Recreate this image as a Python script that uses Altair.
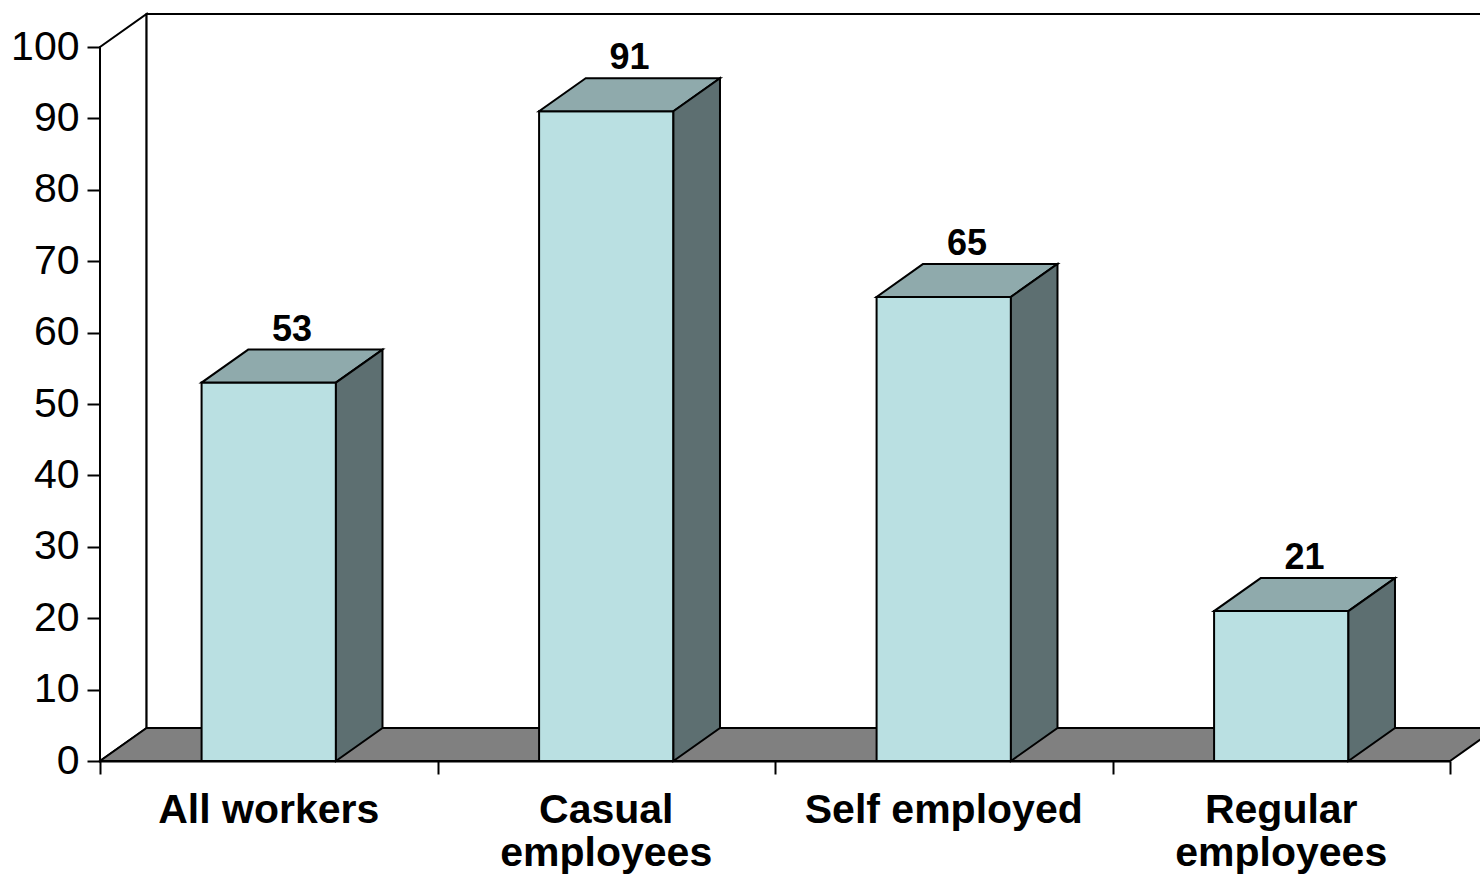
import altair as alt
import pandas as pd

categories = ["All workers", "Casual\nemployees", "Self employed", "Regular\nemployees"]
values = [53, 91, 65, 21]
y_ticks = [0, 10, 20, 30, 40, 50, 60, 70, 80, 90, 100]

# 3D geometry in data units
DX = 0.138   # depth offset along x (category units)
DY = 4.62    # depth offset along y (value units)
HW = 0.199   # half width of bar front face
YMAX = 100
NCAT = len(categories)

FRONT = "#BAE0E2"
TOP = "#8FAAAC"
SIDE = "#5D6F71"
FLOOR = "#808080"
FONT = "Liberation Sans"

rows_front, rows_top, rows_side, rows_lab = [], [], [], []
for i, (c, v) in enumerate(zip(categories, values)):
    cx = i + 0.5
    rows_front.append({"cat": c, "x": cx - HW, "x2": cx + HW, "y": 0, "y2": v})
    rows_top.append({"cat": c, "yy": v, "xa": cx - HW, "xb": cx + HW})
    rows_top.append({"cat": c, "yy": v + DY, "xa": cx - HW + DX, "xb": cx + HW + DX})
    rows_side.append({"cat": c, "xx": cx + HW, "ya": 0, "yb": v})
    rows_side.append({"cat": c, "xx": cx + HW + DX, "ya": DY, "yb": v + DY})
    rows_lab.append({"cat": c, "x": cx + DX / 2, "y": v + DY, "label": str(v), "cx": cx, "lines": c.split("\n")})

df_front = pd.DataFrame(rows_front)
df_top = pd.DataFrame(rows_top)
df_side = pd.DataFrame(rows_side)
df_lab = pd.DataFrame(rows_lab)

xs = alt.Scale(domain=[0, NCAT], nice=False, zero=False)
ys = alt.Scale(domain=[0, YMAX], nice=False)

x_axis = alt.Axis(values=list(range(NCAT + 1)), labels=False, title=None, grid=False,
                  tickSize=13, tickColor="black", tickWidth=2, domainColor="black", domainWidth=2)
y_axis = alt.Axis(values=y_ticks, title=None, grid=False, tickSize=13, tickColor="black", tickWidth=2,
                  domainColor="black", domainWidth=2, labelFontSize=41, labelFont=FONT,
                  labelColor="black", labelPadding=8)

# walls
left_wall = alt.Chart(pd.DataFrame({"xx": [0, DX], "ya": [0, DY], "yb": [YMAX, YMAX + DY]})).mark_area(
    fill="white", stroke="black", strokeWidth=2, orient="vertical"
).encode(
    x=alt.X("xx:Q", scale=xs, axis=x_axis),
    y=alt.Y("ya:Q", scale=ys, axis=y_axis),
    y2="yb:Q",
)
back_wall = alt.Chart(pd.DataFrame({"x": [DX], "x2": [NCAT + DX], "y": [DY], "y2": [YMAX + DY]})).mark_rect(
    fill="white", stroke="black", strokeWidth=2
).encode(x=alt.X("x:Q", scale=xs), x2="x2:Q", y=alt.Y("y:Q", scale=ys), y2="y2:Q")
floor = alt.Chart(pd.DataFrame({"yy": [0, DY], "xa": [0, DX], "xb": [NCAT, NCAT + DX]})).mark_area(
    fill=FLOOR, stroke="black", strokeWidth=2, orient="horizontal"
).encode(y=alt.Y("yy:Q", scale=ys), x=alt.X("xa:Q", scale=xs), x2="xb:Q")

front = alt.Chart(df_front).mark_rect(fill=FRONT, stroke="black", strokeWidth=2).encode(
    x=alt.X("x:Q", scale=xs), x2="x2:Q", y=alt.Y("y:Q", scale=ys), y2="y2:Q"
)
top = alt.Chart(df_top).mark_area(fill=TOP, stroke="black", strokeWidth=2, orient="horizontal").encode(
    y=alt.Y("yy:Q", scale=ys), x=alt.X("xa:Q", scale=xs), x2="xb:Q", detail="cat:N"
)
side = alt.Chart(df_side).mark_area(fill=SIDE, stroke="black", strokeWidth=2, orient="vertical").encode(
    x=alt.X("xx:Q", scale=xs), y=alt.Y("ya:Q", scale=ys), y2="yb:Q", detail="cat:N"
)
val_text = alt.Chart(df_lab).mark_text(
    font=FONT, fontSize=36, fontWeight="bold", color="black", baseline="alphabetic", align="center", dy=-9
).encode(x=alt.X("x:Q", scale=xs), y=alt.Y("y:Q", scale=ys), text="label:N")
cat_text = alt.Chart(df_lab).mark_text(
    font=FONT, fontSize=41, fontWeight="bold", color="black", baseline="alphabetic", align="center",
    dy=62, lineHeight=43
).encode(x=alt.X("cx:Q", scale=xs), y=alt.Y("zero:Q", scale=ys), text="lines")
cat_text = cat_text.transform_calculate(zero="0")

chart = alt.layer(left_wall, back_wall, floor, front, top, side, val_text, cat_text).properties(
    width=1350, height=714,
    padding={"left": 100, "top": 47, "right": 30, "bottom": 122},
    autosize=alt.AutoSizeParams(type="none"),
).configure_view(stroke=None).configure(background="white")

chart.save("out.html", embed_options={"renderer": "svg", "actions": False})
